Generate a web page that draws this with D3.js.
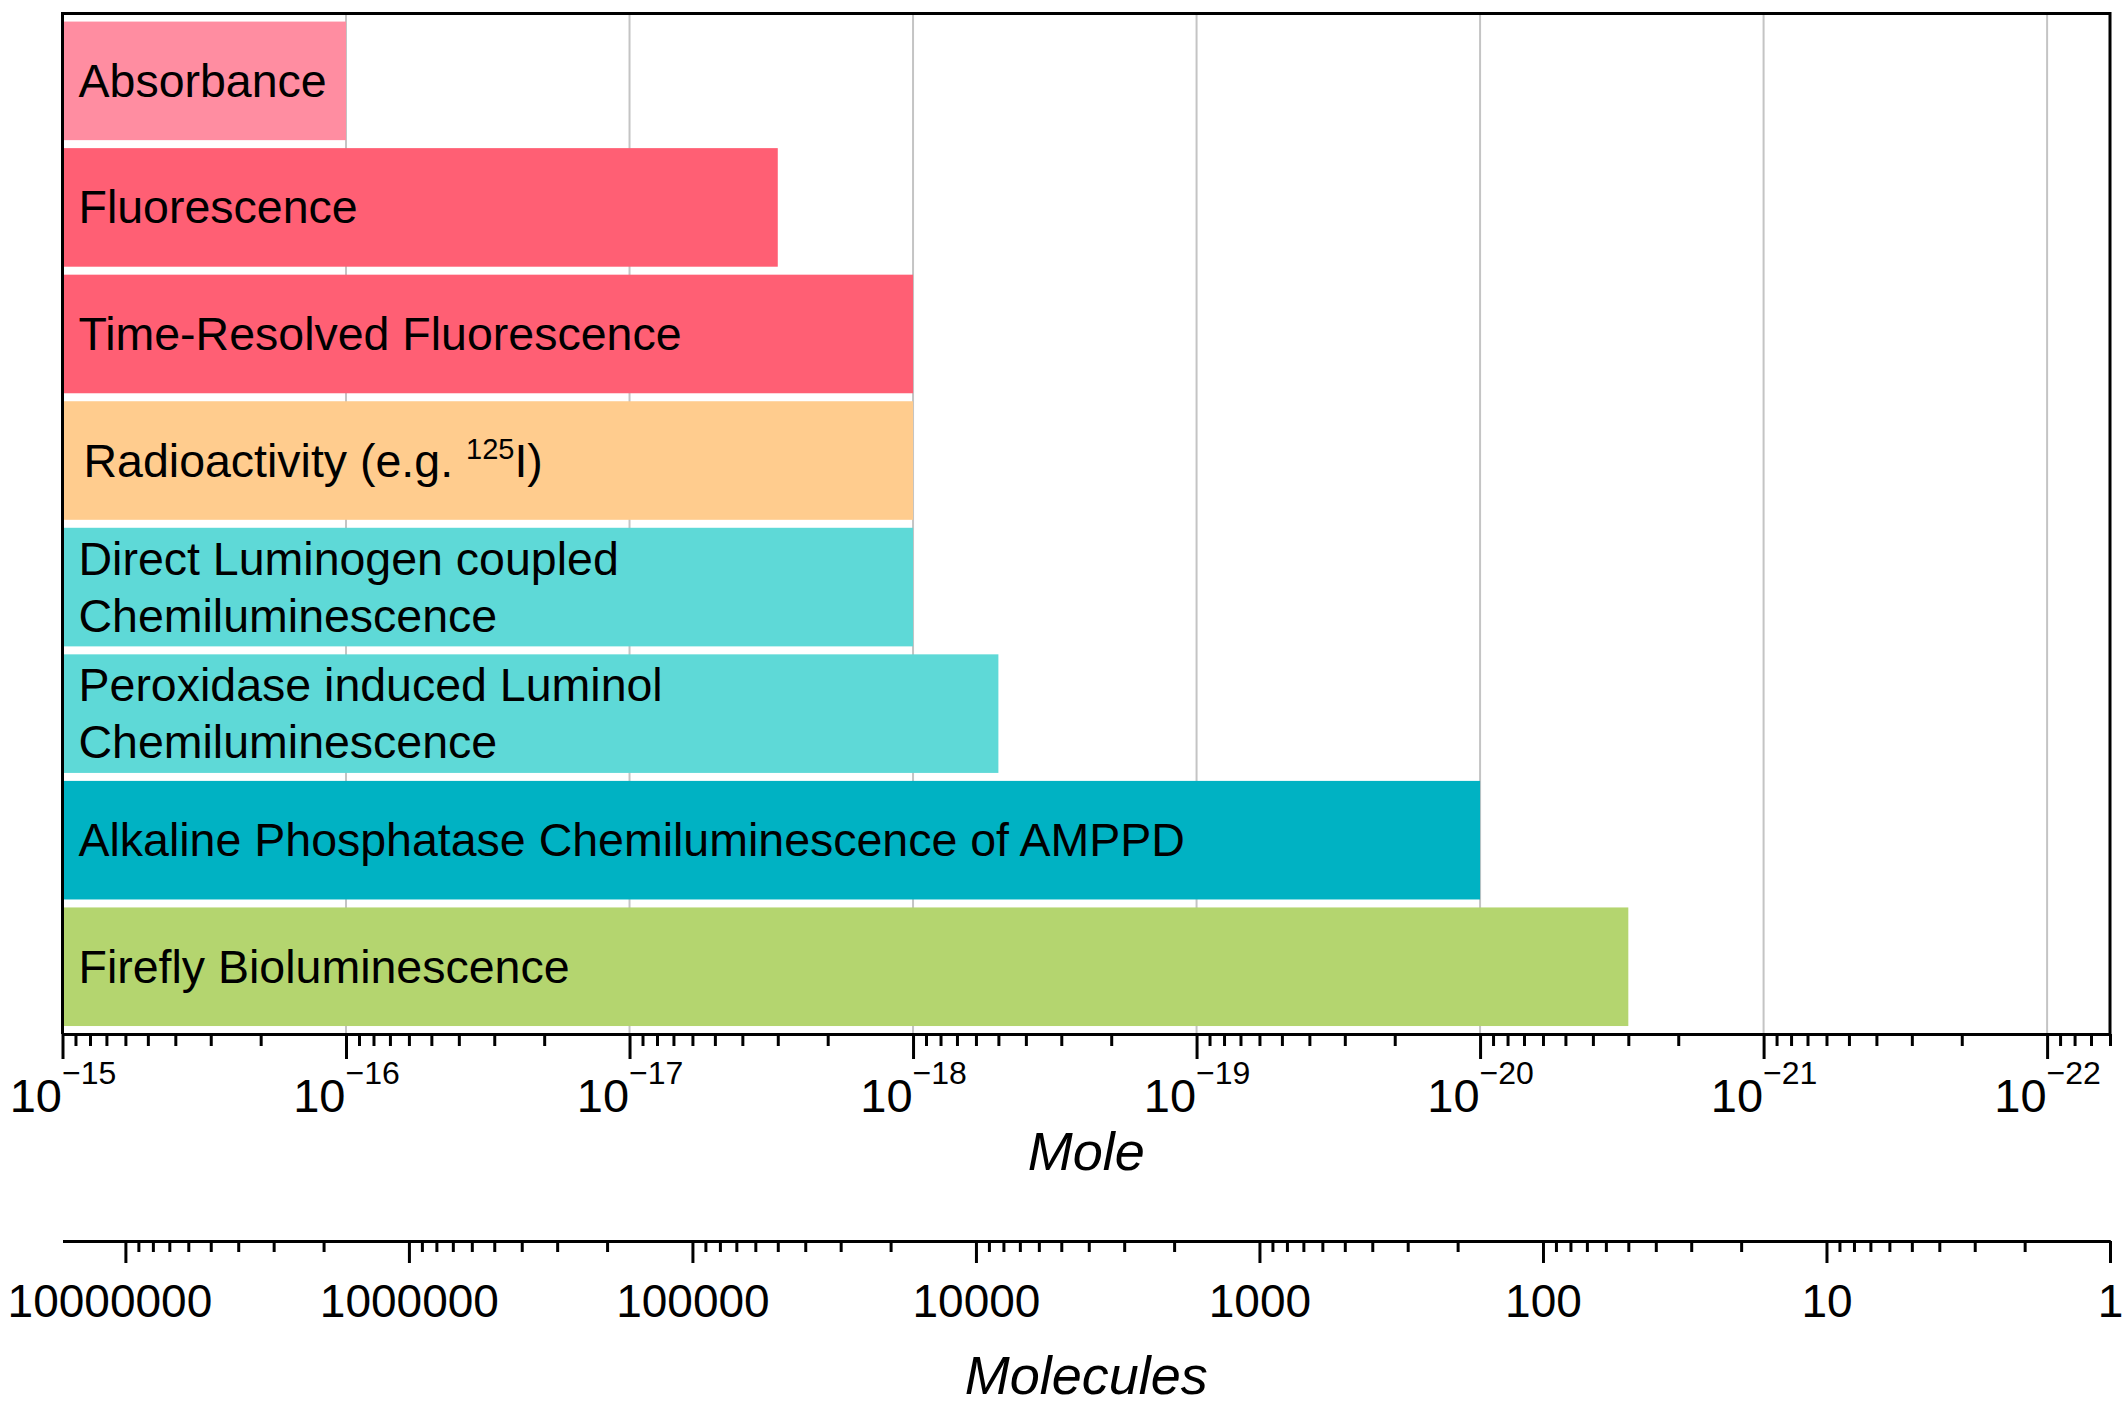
<!DOCTYPE html>
<html>
<head>
<meta charset="utf-8">
<script src="https://cdn.jsdelivr.net/npm/d3@7"></script>
<style>
  body { margin: 0; background: #fff; }
  text { font-family: "Liberation Sans", Arial, sans-serif; fill: #000; }
</style>
</head>
<body>
<div class="container"></div>
<script>
const w = 2128;
const h = 1412;

// methods, top to bottom; "{...}" marks a superscript
const methods = [
  ['Absorbance'],
  ['Fluorescence'],
  ['Time-Resolved Fluorescence'],
  ['Radioactivity (e.g. {125}I)'],
  ['Direct Luminogen coupled', 'Chemiluminescence'],
  ['Peroxidase induced Luminol', 'Chemiluminescence'],
  ['Alkaline Phosphatase Chemiluminescence of AMPPD'],
  ['Firefly Bioluminescence']
];
// detection limit in mole
const limits = [1e-16, 3e-18, 1e-18, 1e-18, 1e-18, 5e-19, 1e-20, 3e-21];
const colors = ['#ff8da1', '#ff5f74', '#ff5f74', '#ffcc8e', '#5ed9d7', '#5ed9d7', '#00b2c3', '#b4d56f'];

const moleDomain = [1e-15, 6e-23];
const moleculeDomain = [1.6667e7, 1];
const moleTicks = [1e-15, 1e-16, 1e-17, 1e-18, 1e-19, 1e-20, 1e-21, 1e-22];
const moleExp = ['15', '16', '17', '18', '19', '20', '21', '22'];
const moleculeTicks = [1e7, 1e6, 1e5, 1e4, 1e3, 1e2, 10, 1];

const plotLeft = 62.5, plotRight = 2110, plotTop = 13.6, axisY = 1034, axis2Y = 1241;

let svg = null;

window.onload = function () {
  svg = d3.select('.container').append('svg')
    .attr('width', w).attr('height', h);
  draw();
};

function draw() {
  const x = d3.scaleLog().domain(moleDomain).range([plotLeft, plotRight]);
  const x2 = d3.scaleLog().domain(moleculeDomain).range([plotLeft, plotRight]);
  const y = d3.scaleBand().domain(d3.range(methods.length))
    .range([plotTop, axisY]).paddingInner(0.063).paddingOuter(0.063);

  // grid
  svg.append('g').selectAll('line').data(moleTicks).enter().append('line')
    .attr('x1', d => x(d)).attr('x2', d => x(d))
    .attr('y1', plotTop).attr('y2', axisY)
    .attr('stroke', '#c4c4c4').attr('stroke-width', 2);

  // bars
  svg.append('g').selectAll('rect').data(limits).enter().append('rect')
    .attr('x', plotLeft)
    .attr('y', (d, i) => y(i))
    .attr('width', d => x(d) - plotLeft)
    .attr('height', y.bandwidth())
    .attr('fill', (d, i) => colors[i]);

  // labels
  const lh = 57;
  methods.forEach((lines, i) => {
    const cy = y(i) + y.bandwidth() / 2;
    lines.forEach((line, j) => {
      const t = svg.append('text')
        .attr('x', plotLeft + (i === 3 ? 21 : 16))
        .attr('y', cy + (j - (lines.length - 1) / 2) * lh + 16)
        .attr('font-size', 46.5);
      let shift = 0;
      line.split(/(\{[^}]*\})/).filter(s => s).forEach(s => {
        if (s[0] === '{') {
          t.append('tspan').attr('font-size', 29).attr('dy', -18).text(s.slice(1, -1));
          shift = 18;
        } else {
          t.append('tspan').attr('dy', shift).text(s);
          shift = 0;
        }
      });
    });
  });

  // frame
  svg.append('path')
    .attr('d', `M${plotLeft},${axisY}V${plotTop}H${plotRight}V${axisY}`)
    .attr('stroke', '#000').attr('stroke-width', 3).attr('fill', 'none');

  const styleAxis = g => {
    g.select('.domain').attr('stroke-width', 3);
    g.selectAll('.tick line').attr('stroke-width', 3);
  };

  // mole axis
  const minor = x.ticks().filter(d => !moleTicks.some(m => Math.abs(m - d) / m < 1e-6));
  svg.append('g').attr('transform', `translate(0,${axisY})`)
    .call(d3.axisBottom(x).tickValues(minor).tickSize(12).tickSizeOuter(0).tickFormat(''))
    .call(styleAxis);
  const ma = svg.append('g').attr('transform', `translate(0,${axisY})`)
    .call(d3.axisBottom(x).tickValues(moleTicks).tickSize(25).tickSizeOuter(0).tickFormat(''))
    .call(styleAxis);
  ma.selectAll('.tick').each(function (d, i) {
    const t = d3.select(this).append('text')
      .attr('y', 78).attr('text-anchor', 'middle').attr('font-size', 47).attr('fill', '#000');
    t.append('tspan').text('10');
    t.append('tspan').attr('dy', -28).attr('font-size', 32).text('\u2212' + moleExp[i]);
  });

  svg.append('text').attr('x', (plotLeft + plotRight) / 2).attr('y', 1170)
    .attr('text-anchor', 'middle').attr('font-size', 54).attr('font-style', 'italic').text('Mole');

  // molecules axis
  const minor2 = x2.ticks().filter(d => !moleculeTicks.includes(d));
  svg.append('g').attr('transform', `translate(0,${axis2Y})`)
    .call(d3.axisBottom(x2).tickValues(minor2).tickSize(11).tickSizeOuter(0).tickFormat(''))
    .call(styleAxis);
  const mb = svg.append('g').attr('transform', `translate(0,${axis2Y})`)
    .call(d3.axisBottom(x2).tickValues(moleculeTicks).tickSize(22).tickSizeOuter(0).tickFormat(''))
    .call(styleAxis);
  mb.selectAll('.tick').append('text')
    .attr('y', 76).attr('x', (d, i) => i === 0 ? -16 : 0)
    .attr('text-anchor', 'middle').attr('font-size', 46).attr('fill', '#000')
    .text(d => d3.format('d')(d));

  svg.append('text').attr('x', (plotLeft + plotRight) / 2).attr('y', 1394)
    .attr('text-anchor', 'middle').attr('font-size', 54).attr('font-style', 'italic').text('Molecules');
}
</script>
</body>
</html>
